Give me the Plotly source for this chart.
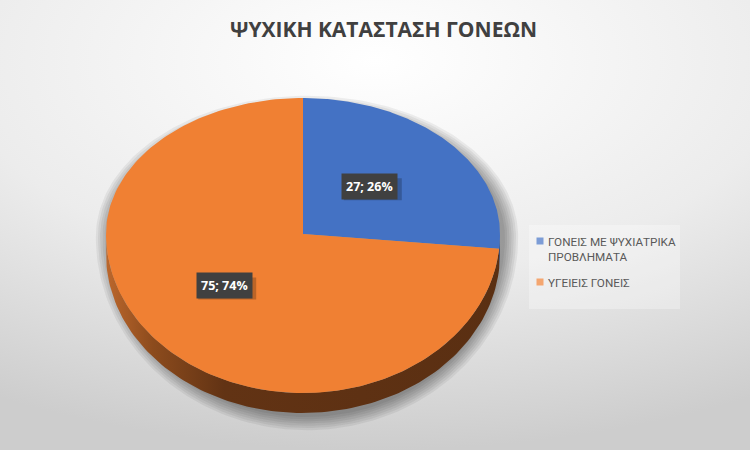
import numpy as np
import plotly.graph_objects as go

# ---- data ----
title_text = "ΨΥΧΙΚΗ ΚΑΤΑΣΤΑΣΗ ΓΟΝΕΩΝ"
categories = ["ΓΟΝΕΙΣ ΜΕ ΨΥΧΙΑΤΡΙΚΑ ΠΡΟΒΛΗΜΑΤΑ", "ΥΓΕΙΕΙΣ ΓΟΝΕΙΣ"]
legend_text = ["ΓΟΝΕΙΣ ΜΕ ΨΥΧΙΑΤΡΙΚΑ<br>ΠΡΟΒΛΗΜΑΤΑ", "ΥΓΕΙΕΙΣ ΓΟΝΕΙΣ"]
values = [27, 75]

# ---- styles ----
top_colors = ["#4472c4", "#f08033"]
wall_scales = [
    [[0, "#2f5597"], [1, "#203a66"]],
    [[0, "#bc672c"], [0.12, "#8c4b1d"], [0.3, "#623314"], [1, "#5a2f12"]],
]
W, H = 750, 450
cx, cy = 303, 234
rx, ry_up, ry_dn = 197, 136, 159
depth = 20


def pt(theta_deg, scale=1.0, dy=0.0):
    t = np.radians(theta_deg)
    c = np.cos(t)
    ry = np.where(c > 0, ry_up, ry_dn)
    return cx + scale * rx * np.sin(t), cy - scale * ry * c + dy


total = sum(values)
fig = go.Figure()

# background gradient
fig.add_trace(go.Scatter(
    x=[-375, 1125, 1125, -375, -375], y=[-330, -330, 450, 450, -330],
    mode="lines", line=dict(width=0), fill="toself",
    fillgradient=dict(type="radial", colorscale=[[0, "#ffffff"], [0.55, "#ececec"], [1, "#cdcdcd"]]),
    hoverinfo="skip", showlegend=False))

# soft shadow
for k in range(7):
    th = np.linspace(0, 360, 241)
    t = np.radians(th)
    c = np.cos(t)
    ex = cx + 4 + (rx + 1 + 2.2 * k) * np.sin(t)
    ey = cy + 3 - np.where(c > 0, ry_up - 8 + 2.2 * k, ry_dn + depth + 1 + 2.2 * k) * c
    fig.add_trace(go.Scatter(x=ex, y=ey, mode="lines", line=dict(width=0), fill="toself",
                             fillcolor="rgba(0,0,0,0.06)", hoverinfo="skip", showlegend=False))

# slices
angles = np.concatenate([[0], np.cumsum(values) / total * 360])
# walls first
for i, v in enumerate(values):
    a0, a1 = angles[i], angles[i + 1]
    s, e = max(a0, 90), min(a1, 270)
    if e > s:
        th = np.linspace(s, e, 120)
        x1, y1 = pt(th)
        x2, y2 = pt(th[::-1], dy=depth)
        fig.add_trace(go.Scatter(
            x=np.concatenate([x1, x2, x1[:1]]), y=np.concatenate([y1, y2, y1[:1]]),
            mode="lines", line=dict(width=0), fill="toself",
            fillgradient=dict(type="horizontal", colorscale=wall_scales[i]),
            hoverinfo="skip", showlegend=False))

for i, v in enumerate(values):
    a0, a1 = angles[i], angles[i + 1]
    th = np.linspace(a0, a1, 200)
    x, y = pt(th)
    fig.add_trace(go.Scatter(
        x=np.concatenate([[cx], x, [cx]]), y=np.concatenate([[cy], y, [cy]]),
        mode="lines", line=dict(width=0), fill="toself", fillcolor=top_colors[i],
        name=categories[i], text=f"{categories[i]}: {v}", hoverinfo="text", showlegend=False))

# data labels
for i, v in enumerate(values):
    mid = (angles[i] + angles[i + 1]) / 2
    lx, ly = pt(mid, scale=0.5)
    lx, ly = float(lx) - 6, float(ly) - 2
    txt = f"{v}; {round(100 * v / total)}%"
    fig.add_shape(type="rect", xref="x", yref="y", x0=lx - 26, x1=lx + 32, y0=ly - 8, y1=ly + 14,
                  fillcolor="rgba(0,0,0,0.22)", line=dict(width=0), layer="above")
    fig.add_annotation(x=lx, y=ly, text=f"<b>{txt}</b>", showarrow=False, xref="x", yref="y",
                       font=dict(family="Open Sans", size=12.5, color="#ffffff"),
                       bgcolor="#404040", borderpad=4)

# legend (manual)
fig.add_shape(type="rect", xref="x", yref="y", x0=529, x1=680, y0=225, y1=309,
              fillcolor="rgba(255,255,255,0.3)", line=dict(width=0), layer="above")
leg_y = [241, 282]
for i, name in enumerate(categories):
    fig.add_trace(go.Scatter(x=[540], y=[leg_y[i]], mode="markers",
                             marker=dict(symbol="square", size=7, color=top_colors[i]),
                             hoverinfo="skip", showlegend=False))
    fig.add_annotation(x=546, y=leg_y[i] - 8, text=legend_text[i], showarrow=False,
                       xref="x", yref="y", xanchor="left", yanchor="top", align="left",
                       font=dict(family="Roboto", size=11.7, color="#595959"))

fig.add_annotation(x=383, y=29, xref="x", yref="y", text=f"<b>{title_text}</b>", showarrow=False,
                   font=dict(family="Open Sans", size=21, color="#404040"))

fig.update_layout(
    width=W, height=H, margin=dict(l=0, r=0, t=0, b=0),
    paper_bgcolor="#e8e8e8", plot_bgcolor="rgba(0,0,0,0)",
    xaxis=dict(range=[0, W], visible=False, fixedrange=True),
    yaxis=dict(range=[H, 0], visible=False, fixedrange=True),
    showlegend=False,
)

fig.write_html("out.html", config={"displayModeBar": False},
               post_script="document.body.style.margin='0';document.body.style.overflow='hidden';")
